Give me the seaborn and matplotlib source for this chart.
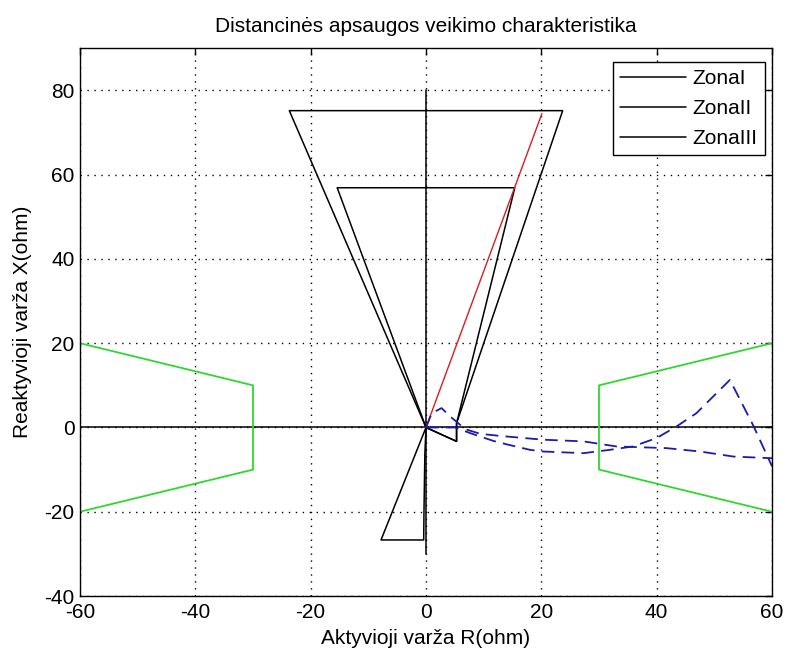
import matplotlib
matplotlib.use("Agg")
import matplotlib.pyplot as plt
import seaborn as sns
import pandas as pd
from matplotlib.lines import Line2D

# ---- data ----
title = "Distancinės apsaugos veikimo charakteristika"
xlabel = "Aktyvioji varža R(ohm)"
ylabel = "Reaktyvioji varža X(ohm)"
legend_labels = ["ZonaI", "ZonaII", "ZonaIII"]

x_ticks = [-60, -40, -20, 0, 20, 40, 60]
y_ticks = [-40, -20, 0, 20, 40, 60, 80]

# zone polygons (R, X)
zone1_R = [0, -15.4, 15.4, 5.3, 5.3, 0]
zone1_X = [0, 56.9, 56.9, 1.0, -3.3, 0]
zone2_R = [0, -23.7, 23.7, 5.3, 5.3, 0]
zone2_X = [0, 75.2, 75.2, 1.0, -3.3, 0]
zone3_R = [0, -7.8, -0.4, -0.35, -0.2, 0]
zone3_X = [0, -26.7, -26.7, -20.0, -6.4, 0]

# axes lines
haxis_R = [-60, 60]
haxis_X = [0, 0]
vaxis_R = [0, 0]
vaxis_X = [-30, 80]

# line impedance (red)
line_R = [0, 20.1]
line_X = [0, 74.5]

# load blinders (green)
blindL_R = [-60, -30, -30, -60]
blindL_X = [20, 10, -10, -20]
blindR_R = [60, 30, 30, 60]
blindR_X = [20, 10, -10, -20]

# impedance trajectories (blue dashed)
trajA_R = [0, 5.0, 8.0, 11.7, 14.0, 18.0, 20.3, 27.3, 31.9, 35.9, 40.0, 43.4, 46.9, 52.7, 56.7, 60.0]
trajA_X = [0, 0.0, -1.5, -3.2, -4.0, -5.3, -5.7, -6.1, -5.3, -4.5, -2.5, 0.2, 3.4, 11.3, 0.6, -9.2]
trajB_R = [0, 1.0, 2.7, 4.2, 5.6, 6.8, 9.4, 12.8, 20.3, 27.3, 33.0, 41.7, 47.5, 53.3, 60.0]
trajB_X = [0, 3.4, 4.6, 2.6, 1.0, -0.4, -1.5, -2.0, -2.9, -3.3, -4.5, -4.9, -5.7, -6.9, -7.3]

# ---- styling ----
sns.set_theme(style="white")
FONT = ["Liberation Sans", "DejaVu Sans"]
plt.rcParams["font.family"] = FONT
plt.rcParams["text.color"] = "black"
FS = 15

fig = plt.figure(figsize=(7.85, 6.53), dpi=100)
ax = fig.add_axes([80 / 785, 57 / 653, 692 / 785, 547.7 / 653])


def draw(R, X, color, lw=1.1, dashes=None):
    df = pd.DataFrame({"R": R, "X": X})
    sns.lineplot(data=df, x="R", y="X", sort=False, estimator=None,
                 color=color, linewidth=lw, ax=ax, legend=False)
    ln = ax.lines[-1]
    if dashes is not None:
        ln.set_dashes(dashes)
    return ln


draw(zone1_R, zone1_X, "black")
draw(zone2_R, zone2_X, "black")
draw(zone3_R, zone3_X, "black")
draw(haxis_R, haxis_X, "black")
draw(vaxis_R, vaxis_X, "black")
draw(line_R, line_X, "#d81e1e", lw=1.0)
draw(blindL_R, blindL_X, "#2ed82e", lw=1.3)
draw(blindR_R, blindR_X, "#2ed82e", lw=1.3)
draw(trajA_R, trajA_X, "#1c1ca8", lw=1.3, dashes=(7, 4))
draw(trajB_R, trajB_X, "#1c1ca8", lw=1.3, dashes=(7, 4))

ax.set_xlim(-60, 60)
ax.set_ylim(-40, 90)
ax.set_xticks(x_ticks)
ax.set_yticks(y_ticks)
ax.set_xticklabels([str(v) for v in x_ticks])
ax.set_yticklabels([str(v) for v in y_ticks])
ax.tick_params(direction="in", length=5, width=1, colors="black",
               labelsize=FS, top=True, right=True)
ax.tick_params(axis="x", pad=5)
ax.tick_params(axis="y", pad=4)
for s in ax.spines.values():
    s.set_color("black")
    s.set_linewidth(1.0)
ax.grid(True, color="black", linestyle=(0, (1, 4)), linewidth=1.0)
ax.set_axisbelow(True)

ax.set_xlabel(xlabel, fontsize=FS, color="black", labelpad=5)
ax.set_ylabel(ylabel, fontsize=FS, color="black", labelpad=9)
ax.set_title(title, fontsize=FS, color="black", pad=12)

handles = [Line2D([0], [0], color="black", lw=1.1) for _ in legend_labels]
leg = ax.legend(handles, legend_labels, loc="upper right",
                bbox_to_anchor=((765 - 80) / 692, (596 - 62) / 547.7),
                borderaxespad=0, fontsize=FS, frameon=True,
                fancybox=False, framealpha=1, edgecolor="black",
                handlelength=3.2, labelspacing=0.52, borderpad=0.35,
                handletextpad=0.3)
leg.get_frame().set_linewidth(1.0)
for t in leg.get_texts():
    t.set_color("black")

fig.savefig("out.png", dpi=100)
